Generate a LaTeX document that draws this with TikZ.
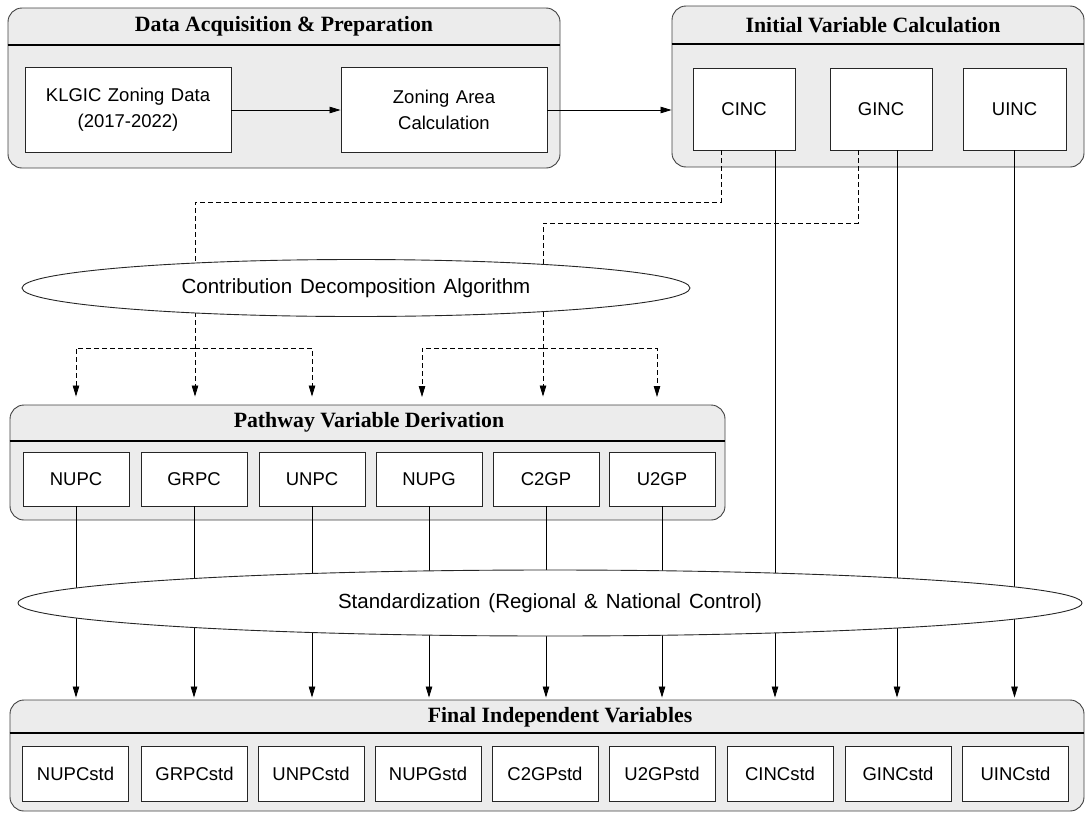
\documentclass[tikz,border=0pt]{standalone}
\usepackage{fontspec}
\setmainfont{Liberation Sans}
\newfontfamily\titlefont{Liberation Serif}
\usetikzlibrary{arrows.meta,shapes.geometric}
\newcommand\myboxfont{\fontsize{18.5}{26}\selectfont\spaceskip=6.5pt plus 1pt\relax}
\newcommand\myovalfont{\fontsize{20.5}{23}\selectfont\spaceskip=8pt plus 1pt\relax}
\begin{document}
\begin{tikzpicture}[x=1pt,y=-1pt,
 panel/.style={draw=black!75, line width=0.9pt, fill=gray!15, rounded corners=14pt, inner sep=0pt},
 box/.style={draw=black!85, line width=0.9pt, fill=white, inner sep=0pt, align=center, font=\myboxfont},
 ttl/.style={font=\titlefont\bfseries\fontsize{21.8}{24}\selectfont, inner sep=0pt},
 hdr/.style={line width=1.7pt},
 oval/.style={ellipse, draw=black!85, line width=0.9pt, fill=white, inner sep=0pt, font=\myovalfont},
 arr/.style={line width=0.8pt, -{Triangle[length=11pt,width=6.5pt]}},
 dsh/.style={line width=0.8pt, dash pattern=on 5pt off 3pt},
 darr/.style={dsh, -{Triangle[length=11pt,width=6.5pt]}},
 ]
\useasboundingbox (0,0) rectangle (1086,814);
% panels
\node[panel, minimum width=552pt, minimum height=160pt] (p1) at (284,88) {};
\node[panel, minimum width=412pt, minimum height=161pt] (p2) at (878,86.5) {};
\node[panel, minimum width=715pt, minimum height=115pt] (p3) at (367.5,462.5) {};
\node[panel, minimum width=1074pt, minimum height=111pt] (p4) at (547,755.5) {};
\coordinate (y1) at (0,45);
\coordinate (y2) at (0,44);
\coordinate (y3) at (0,441);
\coordinate (y4) at (0,733);
\draw[hdr] (p1.west |- y1) -- (p1.east |- y1);
\draw[hdr] (p2.west |- y2) -- (p2.east |- y2);
\draw[hdr] (p3.west |- y3) -- (p3.east |- y3);
\draw[hdr] (p4.west |- y4) -- (p4.east |- y4);
\node[ttl] (t1) at (284,26) {Data Acquisition \& Preparation};
\node[ttl] (t2) at (873,25) {Initial Variable Calculation};
\node[ttl] (t3) at (369,422) {Pathway Variable Derivation};
\node[ttl] (t4) at (560,717) {Final Independent Variables};
% boxes
\node[box, minimum width=206pt, minimum height=85pt] (klgic) at (128,110) {KLGIC Zoning Data\\(2017-2022)};
\node[box, minimum width=206pt, minimum height=85pt] (zoning) at (444,110) {Zoning Area\\Calculation};
\node[box, minimum width=102pt, minimum height=82pt] (cinc) at (744,109) {CINC};
\node[box, minimum width=102pt, minimum height=82pt] (ginc) at (881,109) {GINC};
\node[box, minimum width=103pt, minimum height=82pt] (uinc) at (1014.5,109) {UINC};
\foreach \n/\x/\t in {nupc/76/NUPC, grpc/194/GRPC, unpc/312/UNPC, nupg/429/NUPG, c2gp/546/C2GP, u2gp/662/U2GP}
  \node[box, minimum width=106pt, minimum height=54pt] (\n) at (\x,479) {\t};
\foreach \n/\x/\t in {nupcs/75.5/NUPCstd, grpcs/194.5/GRPCstd, unpcs/311/UNPCstd, nupgs/428/NUPGstd, c2gps/545/C2GPstd, u2gps/662/U2GPstd, cincs/780/CINCstd, gincs/898/GINCstd, uincs/1015.5/UINCstd}
  \node[box, minimum width=106pt, minimum height=55pt] (\n) at (\x,773.5) {\t};
% top arrows
\draw[arr] (klgic) -- (zoning);
\draw[arr] (zoning.east) -- (zoning.east -| p2.west);
% solid lines to final panel
\foreach \a in {nupc,grpc,unpc,nupg,c2gp,u2gp}
  \draw[arr] (\a.south) -- ([yshift=2pt]\a.south |- p4.north);
\draw[arr] ([xshift=31pt]cinc.south) -- ([xshift=31pt,yshift=2pt]cinc.south |- p4.north);
\draw[arr] ([xshift=16pt]ginc.south) -- ([xshift=16pt,yshift=2pt]ginc.south |- p4.north);
\draw[arr] (uinc.south) -- ([yshift=2pt]uinc.south |- p4.north);
% dashed decomposition lines
\coordinate (e1c) at (356,288);
\coordinate (k1) at (195,202);
\coordinate (k2) at (543,223);
\draw[dsh] ([xshift=-23pt]cinc.south) |- (k1) -- (k1 |- e1c);
\draw[dsh] ([xshift=-23pt]ginc.south) |- (k2) -- (k2 |- e1c);
\coordinate (m1) at (195,348);
\coordinate (m2) at (543,348);
\coordinate (a4) at (422,397);
\coordinate (a6) at (657,397);
\draw[darr] (k1 |- e1c) -- ([yshift=8pt]k1 |- p3.north);
\draw[darr] (m1) -| ([yshift=8pt]nupc.north |- p3.north);
\draw[darr] (m1) -| ([yshift=8pt]unpc.north |- p3.north);
\draw[darr] (k2 |- e1c) -- ([yshift=8pt]k2 |- p3.north);
\draw[darr] (m2) -| (a4);
\draw[darr] (m2) -| (a6);
% ellipses
\node[oval, minimum width=668pt, minimum height=57pt] (e1) at (e1c) {Contribution Decomposition Algorithm};
\node[oval, minimum width=1064pt, minimum height=66pt] (e2) at (550,603) {Standardization (Regional \& National Control)};
\end{tikzpicture}
\end{document}
